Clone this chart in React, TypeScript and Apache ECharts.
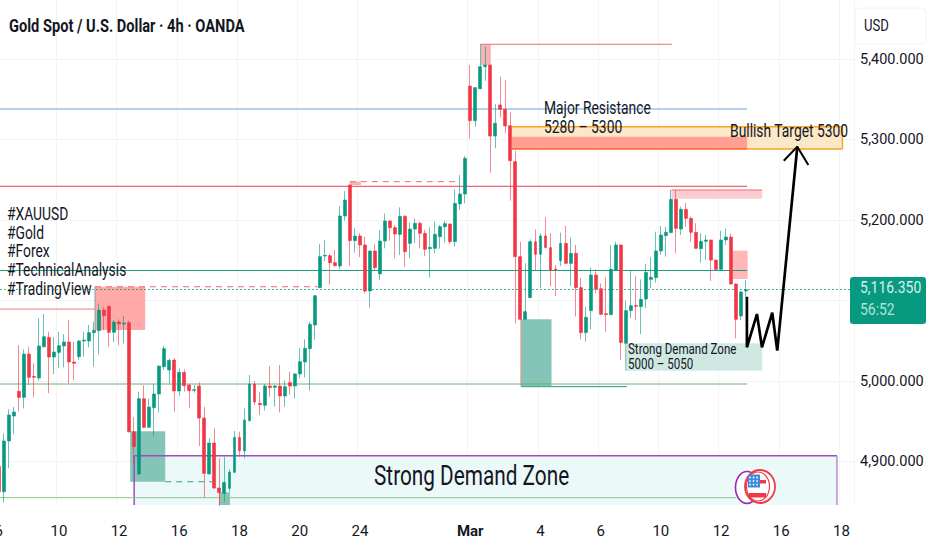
import React, { useEffect, useRef } from "react";
import * as echarts from "echarts";

const dateLabels: Record<number, string> = {
  0: "6", 12: "10", 24: "12", 36: "16", 48: "18", 60: "20", 72: "24",
  94: "Mar", 108: "4", 120: "6", 132: "10", 144: "12", 156: "16", 168: "18",
};
const barCount = 171;
const priceTicks = [4900, 5000, 5100, 5200, 5300, 5400];
const priceLabels = [4900, 5000, 5200, 5300, 5400];

// [open, close, low, high]
const ohlc: number[][] = [
  [4894,4862.5,4860,4897],[4862.5,4925.5,4849,4935],[4925.5,4957.8,4891.5,4964.8],[4956.5,4961.5,4934,4968],
  [4987.2,4979.7,4962,5044.7],[4979.7,5033.5,4966,5039.3],[5033.5,5004.6,4995,5042.6],[5005.8,5004.6,4979.7,5022],
  [5003.8,5043.5,5000.4,5077.9],[5042.6,5055,5041.8,5083.2],[5054.2,5029.8,4984.7,5061.3],[5029.8,5036,5008.7,5054.2],
  [5035.6,5043.9,5015.7,5060.9],[5043.5,5048.5,5017,5058.4],[5048.5,5023.6,4997,5075.8],[5023.6,5022,5001.3,5048.9],
  [5030.2,5049.7,5026,5050.9],[5049.7,5050.9,5030.2,5061.3],[5049.7,5060,5041.8,5069.6],[5060,5063,5017.8,5073.7],
  [5062.5,5088.2,5033,5096.5],[5088.2,5081.2,5063.4,5091.5],[5092.7,5060.5,5042.6,5092.7],[5060.5,5073.3,5048.5,5075.8],
  [5073.3,5070.8,5044.3,5076.6],[5070.8,5072,5046.8,5080.8],[5072.5,4937,4936,5075],[4937,4918.5,4897.7,4955],
  [4884.5,4978,4884,4986.8],[4978,4942.5,4941.5,4994.6],[4942.5,4967.7,4942,4978],[4966.9,4983.9,4930.9,4996.3],
  [4983.9,5018.6,4961,5019],[5017.8,5040.2,5013.7,5043.5],[5013.7,5025.7,4997,5028.2],[5026.1,4987.6,4962,5028.2],
  [4987.6,5010.8,4981.4,5015.7],[5010.8,4994.2,4986.8,5014.5],[4995,4988,4966,4996.3],[4988.4,4989.2,4985.5,4995],
  [4993.8,4954,4919.3,4998],[4954,4885.3,4855.5,4968],[4884.5,4923,4884,4928.8],[4923,4867.1,4866,4941.2],
  [4867.1,4861.3,4844.8,4904],[4860.5,4874.1,4850,4906],[4866.7,4887,4862.5,4890.3],[4886.6,4930,4886,4937.9],
  [4930,4913.5,4906,4937],[4913.1,4951.6,4904,4966],[4950.8,4996.3,4950,5007.5],[4996.3,4974,4970.2,5000],
  [4972.3,4970.6,4957.8,4986],[4969.8,4993.8,4963.2,4996.3],[4993.8,4991.8,4980.6,5018.7],[4992.2,4993.8,4968.2,4995],
  [4993.8,4981.4,4961,5019.9],[4981.4,4993,4968,5000.5],[4998,4993.8,4982.7,5011.7],[4993.8,5008.8,4978.5,5009.6],
  [5008.8,5024,5003.4,5040.6],[5023.7,5040.6,5004.6,5051.8],[5040.2,5070.4,4988,5073.7],[5069.6,5106,5051,5106.3],
  [5116,5154.5,5115.5,5170.2],[5155.3,5156.1,5149,5175.2],[5155.7,5147,5119.7,5158.6],[5147,5143.3,5142,5162.8],
  [5142.9,5205,5139.2,5217.4],[5205,5224.9,5199.2,5236],[5243.5,5174.4,5142.9,5244],[5174.4,5180.1,5159.4,5189.7],
  [5180.1,5169,5153.7,5183.5],[5169,5111.8,5108.9,5179.3],[5111.8,5161.5,5091.1,5162],[5161.5,5140.8,5137.9,5170.2],
  [5133,5173.9,5125.5,5187.6],[5173.9,5198.8,5164.8,5208.3],[5198.8,5190.5,5174.4,5200],[5190.5,5182.6,5152.4,5193.8],
  [5182.2,5204.6,5156.6,5215.8],[5204.6,5160.7,5142,5206.2],[5171,5188.8,5152.4,5196.7],[5188.8,5195.9,5171,5202],
  [5195.9,5183.5,5164.8,5198],[5183.5,5163.6,5155.3,5187.6],[5164.4,5166,5128.4,5190.9],[5164.8,5182.2,5158.6,5198],
  [5179.3,5191.7,5164.4,5193.8],[5191.7,5195.5,5171.9,5199.2],[5195,5173.1,5170.2,5195.9],[5173.1,5220.7,5166.9,5238.1],
  [5220,5232.3,5212.4,5255.9],[5232.3,5276.6,5220.7,5279.5],[5366.4,5323.4,5301.5,5392.5],[5323.4,5364.4,5316,5364.8],
  [5363.1,5390.5,5362.6,5418.6],[5390.5,5392.5,5373,5415.3],[5392.5,5304.3,5258.8,5393],[5304.3,5320.1,5289,5344],
  [5342.9,5337.5,5327.5,5378],[5337.5,5316.8,5307.7,5373.9],[5317.2,5273.7,5224,5333.7],[5272.5,5154.5,5071.7,5286],
  [5154.5,5076.7,5076,5173.1],[5076.7,5086.2,5076,5146.2],[5103.6,5173.1,5103,5176],[5173.1,5157.4,5137.9,5188.4],
  [5157.4,5180.2,5115.2,5183.5],[5180.2,5165.7,5165,5203.4],[5165.7,5137.9,5118,5183.5],[5139.2,5137.9,5105.6,5144.2],
  [5149.5,5171,5142.9,5184.3],[5171,5146.2,5146,5192.6],[5146.2,5158.6,5118,5178],[5158.6,5116,5080,5169],
  [5116,5060.1,5051.8,5127.6],[5060.1,5079.2,5048.9,5092.4],[5087.4,5131.7,5064.2,5141.2],[5131.7,5114.3,5109,5138.8],
  [5114.7,5082.9,5082,5121.4],[5083.7,5082.5,5061.3,5128.8],[5082.5,5138.8,5082,5169],[5137.5,5169,5137,5173.1],
  [5169,5047.7,5026.2,5169.5],[5046.9,5087.4,5046.5,5099.8],[5087.4,5093.6,5077.9,5136.7],[5094,5092.8,5075.8,5130.5],
  [5092.4,5101.5,5058.4,5126.3],[5101.9,5135,5090.3,5145.4],[5126.3,5128.8,5115.2,5153.6],[5128.4,5161.5,5122.2,5185.5],
  [5161.5,5181.4,5156.6,5192.6],[5180.6,5184.7,5154.5,5191.7],[5184.3,5225.7,5184,5237.3],[5225.7,5189.7,5158.6,5237.3],
  [5188.8,5213.3,5181.4,5216.6],[5213.3,5202.1,5191.7,5221.5],[5202.1,5184.7,5172.7,5204.2],[5184.7,5164.8,5164.5,5195.9],
  [5164.4,5173.5,5147,5183.5],[5173.5,5175.2,5150.3,5181.4],[5175.2,5150.3,5124.3,5175.5],[5150.3,5138.7,5138,5150.5],
  [5138.7,5175.2,5138,5186.8],[5175.2,5178.9,5169,5189.7],[5178.9,5120.5,5120,5183.5],[5120.5,5076.6,5053,5121.3],
  [5080.8,5110.6,5075.8,5112.3],[5111.8,5113.5,5104.8,5125.5],
];

// Zones: [fromBar, toBar, topPrice, bottomPrice]
const peakZone = [96.1, 98.1, 5418.3, 5392.5];
const resistanceZone = [102.3, 149.2, 5315.9, 5288.2];
const resistanceCore = [102.3, 149.2, 5303.5, 5288.2];
const targetZone = [149.2, 168.2, 5315.9, 5288.2];
const swingHighZone = [134.1, 152.2, 5237.3, 5226.5];
const retestZone = [146.3, 149.3, 5161.9, 5126.7];
const tradingViewZone = [19.2, 29.2, 5117.1, 5063.4];
const breakZone = [70, 72.2, 5247.6, 5243.5];
const lowerDemandBlock = [26.2, 33.2, 4937.5, 4874.9];
const lowestBlock = [44, 46.1, 4861.8, 4846];
const marchDemandBlock = [104.1, 110.2, 5076.7, 4993.8];
const demandLabelZone = [125, 152.2, 5046.8, 5012.8];
const strongDemandZone = [27, 167.1, 4907.2, 4846];

// Levels: [fromBar, toBar, price]
const blueLevel = [-0.5, 149.2, 5337.9];
const redLevel = [-0.5, 149.2, 5241.9];
const greenLevel = [-0.5, 149.2, 5137.3];
const supportLevel = [-0.5, 149.2, 4996.3];
const lowestLevel = [-0.5, 147, 4855.1];
const oldRedLevel = [-0.5, 19.2, 5089.4];
const peakLevel = [96.1, 134.2, 5418.3];
const marchLowLevel = [104.1, 125.2, 4993];
const dashedRedA = [19.2, 63.6, 5117.1];
const dashedRedB = [70, 92, 5247.6];
const dashedGreen = [33.2, 42.5, 4874.9];
const lastPrice = [-0.5, 169.8, 5113.7];

// Projected path: [bar, price]
const projection = [[149.15,5104.7],[149.15,5041.9],[151.15,5083.2],[152.15,5041.9],[154.2,5084.8],[155.2,5037.7],[159.2,5291.1]];
const arrowHead = [[156.5,5273.7],[159.2,5291.1],[161.4,5268.3]];

const font = "Roboto, sans-serif";
const ink = "#14161f";

const zoneSeries = (z: number[], fill: string, order = 1) => ({
  type: "custom", xAxisIndex: 1, yAxisIndex: 0, silent: true, z: order, clip: true, data: [z],
  encode: { x: [0, 1], y: [2, 3] },
  renderItem: (_: any, api: any) => {
    const a = api.coord([api.value(0), api.value(2)]);
    const b = api.coord([api.value(1), api.value(3)]);
    return { type: "rect", shape: { x: a[0], y: a[1], width: b[0] - a[0], height: b[1] - a[1] }, style: { fill, stroke: "none" } };
  },
});

const polySeries = (pts: number[][], color: string, width = 1, dash: any = "solid", order = 3) => ({
  type: "line", xAxisIndex: 1, yAxisIndex: 0, silent: true, symbol: "none", z: order, data: pts,
  lineStyle: { color, width, type: dash }, clip: true,
});
const levelSeries = (l: number[], color: string, width = 1, dash: any = "solid", order = 3) =>
  polySeries([[l[0], l[2]], [l[1], l[2]]], color, width, dash, order);
const leftEdge = (z: number[], color: string) => polySeries([[z[0], z[2]], [z[0], z[3]]], color, 1);

const label = (text: string, x: number, y: number, size: number, extra: any = {}, squeeze = 0.77) => ({
  type: "text", x, y, z: 50, scaleX: squeeze,
  style: { text, fill: ink, font: `${size}px ${font}`, verticalAlign: "middle", ...extra },
});

export default function App() {
  const ref = useRef<HTMLDivElement>(null);
  useEffect(() => {
    document.body.style.margin = "0";
    const chart = echarts.init(ref.current!, undefined, { renderer: "svg" });
    const blanks = Array.from({ length: barCount - ohlc.length }, () => ["-", "-", "-", "-"] as any);
    const candles = ohlc.concat(blanks);
    const bodies = ohlc
      .map(([o, c]) => [o, c, Math.min(o, c), Math.max(o, c)])
      .concat(blanks);
    const categories = Array.from({ length: barCount }, (_, i) => dateLabels[i] ?? "");
    const isLabelled = (i: number) => dateLabels[i] !== undefined;
    const flagStars = [750, 753.5, 757].flatMap((x) => [477.5, 481, 484.5].map((y) => [x, y]));
    chart.setOption({
      animation: false,
      backgroundColor: "#ffffff",
      grid: { left: -3.8, right: 78, top: 0, bottom: 45, outerBoundsMode: "none", containLabel: false },
      xAxis: [
        {
          type: "category", data: categories, boundaryGap: true,
          axisLine: { show: false },
          axisTick: { show: false, alignWithLabel: true, interval: (i: number) => isLabelled(i) },
          splitLine: { show: true, interval: (i: number) => isLabelled(i), lineStyle: { color: "#f3f4f6", width: 1 } },
          axisLabel: {
            interval: (i: number) => isLabelled(i), margin: 18, hideOverlap: false, showMinLabel: true, showMaxLabel: true,
            color: ink, fontFamily: font, fontSize: 15,
            formatter: (v: string) => (v === "Mar" ? "{b|Mar}" : v),
            rich: { b: { fontFamily: font, fontSize: 15, fontWeight: "bold", color: ink } },
          },
        },
        { type: "value", min: -0.5, max: barCount - 0.5, show: false },
      ],
      yAxis: {
        type: "value", position: "right", min: 4846, max: 5473.3,
        axisLine: { show: false },
        axisTick: { show: false, customValues: priceTicks },
        splitLine: { show: true, lineStyle: { color: "#f3f4f6", width: 1 } },
        axisLabel: {
          customValues: priceLabels, margin: 6, color: ink, fontFamily: font, fontSize: 14.5, padding: [3, 0, 0, 0],
          formatter: (v: number) => v.toLocaleString("en-US", { minimumFractionDigits: 3 }),
        },
      },
      series: [
        zoneSeries(strongDemandZone, "#ecf9f9"),
        levelSeries([strongDemandZone[0], strongDemandZone[1], strongDemandZone[2]], "#9c4fb5", 1.5),
        polySeries([[strongDemandZone[0], strongDemandZone[2]], [strongDemandZone[0], strongDemandZone[3]]], "#9c4fb5", 1.5),
        polySeries([[strongDemandZone[1], strongDemandZone[2]], [strongDemandZone[1], strongDemandZone[3]]], "#b98ccb", 1.5),
        zoneSeries(targetZone, "#fce7c8"),
        zoneSeries(resistanceZone, "#fce7c8"),
        zoneSeries(resistanceCore, "#ff9f92"),
        levelSeries([resistanceZone[0], targetZone[1], resistanceZone[2]], "#f5a623", 1.5),
        levelSeries([resistanceZone[0], resistanceZone[1], resistanceZone[3]], "#f5652b", 1.5),
        levelSeries([targetZone[0], targetZone[1], targetZone[3]], "#f5a623", 1.5),
        polySeries([[targetZone[1], targetZone[2]], [targetZone[1], targetZone[3]]], "#f5a623", 1.5),
        zoneSeries(peakZone, "#f7b3b3"),
        zoneSeries(swingHighZone, "#fbcdd0"),
        zoneSeries(retestZone, "#ffb7b7"),
        zoneSeries(tradingViewZone, "#ffa9a9"),
        zoneSeries(breakZone, "#fbb0b0"),
        zoneSeries(lowerDemandBlock, "#84c5b8"),
        zoneSeries(lowestBlock, "#84c5b8"),
        zoneSeries(marchDemandBlock, "#84c5b8"),
        zoneSeries(demandLabelZone, "#cfe8e2"),
        leftEdge(tradingViewZone, "#8b9c94"),
        leftEdge(marchDemandBlock, "#ec8f97"),
        leftEdge(lowestBlock, "#ec8f97"),
        leftEdge(demandLabelZone, "#7dbfae"),
        levelSeries(blueLevel, "#62a8e8"),
        levelSeries(redLevel, "#e8434f"),
        levelSeries([swingHighZone[0], swingHighZone[1], swingHighZone[2]], "#ee6d75"),
        levelSeries(greenLevel, "#1b9c82"),
        levelSeries(supportLevel, "#6fae6f"),
        levelSeries(lowestLevel, "#8cc48c"),
        levelSeries(oldRedLevel, "#f47a82"),
        levelSeries(peakLevel, "#ee6d75"),
        levelSeries(marchLowLevel, "#1b9c82"),
        levelSeries(dashedRedA, "#f0656f", 1, [6, 5]),
        levelSeries(dashedRedB, "#f0656f", 1, [6, 5]),
        levelSeries(dashedGreen, "#2f9d8f", 1, [6, 5]),
        levelSeries(lastPrice, "#089981", 1, [1.5, 2.5]),
        {
          type: "candlestick", name: "wicks", xAxisIndex: 0, yAxisIndex: 0, data: candles, barWidth: 1, z: 5, silent: true,
          itemStyle: { color: "rgba(8,153,129,0.6)", color0: "rgba(242,54,69,0.6)", borderColor: "rgba(8,153,129,0.6)", borderColor0: "rgba(242,54,69,0.6)", borderWidth: 1 },
        },
        {
          type: "candlestick", name: "bodies", xAxisIndex: 0, yAxisIndex: 0, data: bodies, barWidth: 3.4, z: 6, silent: true,
          itemStyle: { color: "#089981", color0: "#f23645", borderColor: "#089981", borderColor0: "#f23645", borderWidth: 0.6 },
        },
        polySeries(projection, "#000000", 2.7, "solid", 10),
        polySeries(arrowHead, "#000000", 2, "solid", 10),
      ],
      graphic: [
        label("Gold Spot / U.S. Dollar · 4h · OANDA", 9, 25, 19, { font: `bold 19px ${font}` }),
        label("#XAUUSD", 7, 214, 18), label("#Gold", 7, 232.5, 18), label("#Forex", 7, 251, 18),
        label("#TechnicalAnalysis", 7, 269.5, 18), label("#TradingView", 7, 288.5, 18),
        label("Major Resistance", 544, 108, 18), label("5280 – 5300", 544, 127, 18),
        label("Bullish Target 5300", 730, 131, 18),
        label("Strong Demand Zone", 628, 349, 15), label("5000 – 5050", 628, 364, 15),
        label("Strong Demand Zone", 374, 476, 27),
        { type: "rect", z: 40, shape: { x: 855, y: 8, width: 71, height: 36, r: 4 }, style: { fill: "#fff", stroke: "#f3f4f6" } },
        label("USD", 864, 25, 17),
        { type: "rect", z: 40, shape: { x: 850, y: 277, width: 76, height: 47, r: 3 }, style: { fill: "#089981" } },
        label("5,116.350", 860, 288, 17, { fill: "#d5f2ea" }, 0.82),
        label("56:52", 860, 310, 17, { fill: "#b3e3d7" }, 0.82),
        { type: "ellipse", z: 45, shape: { cx: 747, cy: 487.5, rx: 11.5, ry: 16 }, style: { fill: "#fff", stroke: "#9c27b0", lineWidth: 1.6 } },
        { type: "ellipse", z: 46, shape: { cx: 760, cy: 486.5, rx: 15, ry: 16.5 }, style: { fill: "#fff", stroke: "#ee3a48", lineWidth: 1.8 } },
        { type: "ellipse", z: 46, shape: { cx: 758, cy: 486.5, rx: 11.5, ry: 14.5 }, style: { fill: "#fff", stroke: "#ee3a48", lineWidth: 1.2 } },
        { type: "rect", z: 47, shape: { x: 748, y: 474.5, width: 12, height: 13 }, style: { fill: "#3f8ae0" } },
        { type: "rect", z: 47, shape: { x: 760, y: 480, width: 6, height: 3.5 }, style: { fill: "#ee3a48" } },
        { type: "rect", z: 47, shape: { x: 749, y: 493, width: 17, height: 4.5 }, style: { fill: "#ee3a48" } },
        ...flagStars.map(([x, y]) => ({ type: "circle", z: 48, shape: { cx: x, cy: y, r: 0.8 }, style: { fill: "#ffffff" } })),
      ],
    });
    return () => chart.dispose();
  }, []);
  return <div ref={ref} style={{ position: "absolute", left: 0, top: 0, width: 932, height: 550 }} />;
}
